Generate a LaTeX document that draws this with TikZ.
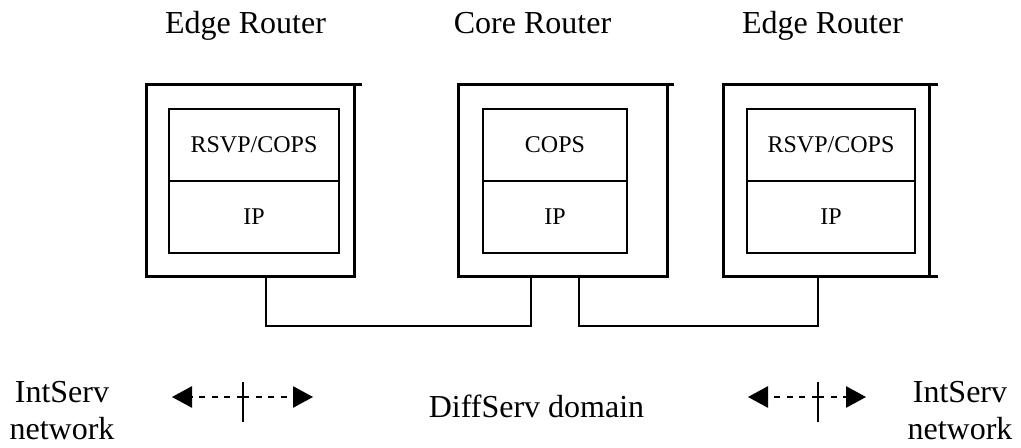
\documentclass[tikz,border=0pt]{standalone}
\usepackage{fontspec}
\setmainfont{Liberation Serif}
\usetikzlibrary{arrows.meta,calc}

\tikzset{
  router/.style={draw, line width=2.25pt, minimum height=144pt, inner sep=0pt, outer sep=0pt},
  layer/.style={draw, line width=1.5pt, minimum height=54pt, inner sep=0pt,
    font=\fontsize{18}{21}\selectfont},
  title/.style={anchor=base, inner sep=0pt, font=\fontsize{24}{28}\selectfont},
  netlabel/.style={anchor=base, inner sep=0pt, align=center,
    font=\fontsize{24}{27.75}\selectfont},
  link/.style={line width=1.1pt},
  span/.style={line width=1.2pt, dash pattern=on 4.6pt off 4.9pt,
    -{Triangle[length=15pt,width=16pt]}},
  tick/.style={line width=1.5pt}
}

\begin{document}
\begin{tikzpicture}[x=0.75pt, y=-0.75pt]
  \useasboundingbox (0,0) rectangle (1021,448);

  % router titles
  \node[title] (tEdgeL) at (245.5,34) {Edge Router};
  \node[title] (tCore)  at (532.5,34) {Core Router};
  \node[title] (tEdgeR) at (822.5,34) {Edge Router};

  % router frames
  \node[router, minimum width=156pt]   (edgeL) at (250,181)   {};
  \node[router, minimum width=156.75pt] (core)  at (562.5,181) {};
  \node[router, minimum width=154.5pt] (edgeR) at (826,181)   {};

  % protruding frame edges
  \draw[line width=2.25pt] (edgeL.north east) -- ++(8,0);
  \draw[line width=2.25pt] (core.north east) -- ++(7,0);
  \draw[line width=2.25pt] (edgeR.north east) -- ++(9,0);
  \draw[line width=2.25pt] (edgeR.south east) -- ++(9,0);

  % protocol stacks
  \node[layer, minimum width=127.5pt] (edgeLtop) at (254,145) {RSVP/COPS};
  \node[layer, minimum width=127.5pt] (edgeLip)  at (254,217) {IP};
  \node[layer, minimum width=108pt]   (coreTop)  at (555,145) {COPS};
  \node[layer, minimum width=108pt]   (coreIp)   at (555,217) {IP};
  \node[layer, minimum width=126pt]   (edgeRtop) at (831,145) {RSVP/COPS};
  \node[layer, minimum width=126pt]   (edgeRip)  at (831,217) {IP};

  % links between routers
  \draw[link] ([xshift=12pt]edgeL.south) -- ++(0,49) -| ([xshift=-23.6pt]core.south);
  \draw[link] ([xshift=12.4pt]core.south) -- ++(0,49) -| ([xshift=-6pt]edgeR.south);

  % domain labels
  \node[title] (diff) at (536.5,418) {DiffServ domain};
  \node[netlabel] (intL) at (62,440) {IntServ\\network};
  \node[netlabel] (intR) at (960,440) {IntServ\\network};

  % domain boundaries
  \coordinate (bL) at (243,397);
  \coordinate (bLa) at (172,397);
  \coordinate (bLb) at (313,397);
  \coordinate (bR) at (818,397);
  \coordinate (bRa) at (748,397);
  \coordinate (bRb) at (866,397);

  \draw[span] (bL) -- (bLa);
  \draw[span] (bL) -- (bLb);
  \draw[tick] ($(bL)+(0,-15)$) -- ($(bL)+(0,25)$);

  \draw[span] (bR) -- (bRa);
  \draw[span] (bR) -- (bRb);
  \draw[tick] ($(bR)+(0,-15)$) -- ($(bR)+(0,25)$);
\end{tikzpicture}
\end{document}
